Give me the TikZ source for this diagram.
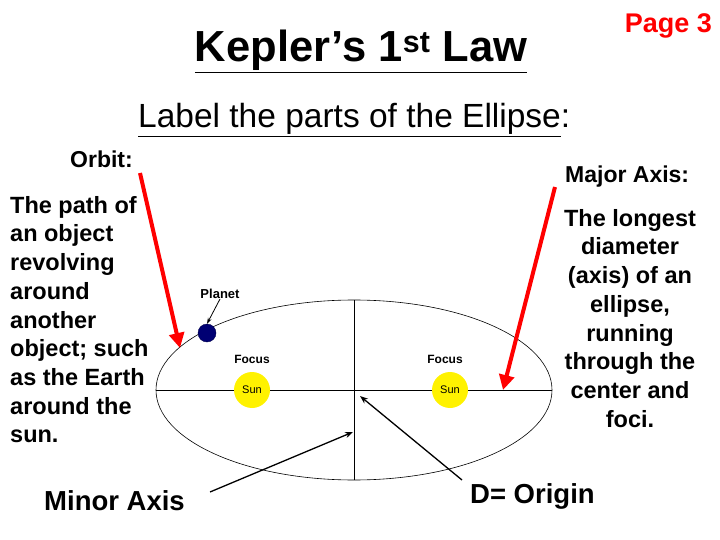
\documentclass[tikz,border=0pt]{standalone}
\usepackage{fontspec}
\setmainfont{Liberation Sans}
\usetikzlibrary{arrows.meta}
\tikzset{
  body/.style={font=\bfseries\fontsize{23.5}{28.7}\selectfont, inner sep=0pt},
  small/.style={font=\bfseries\fontsize{12}{13}\selectfont, inner sep=0pt},
  sun/.style={circle, fill=yellow, minimum size=36pt, inner sep=0pt, font=\fontsize{11}{12}\selectfont},
  redarrow/.style={draw=red, line width=4pt, -{Triangle[length=15pt,width=15pt]}},
  blackarrow/.style={draw=black, line width=1.3pt, -{Stealth[length=8pt,width=6pt]}}
}
\begin{document}
\begin{tikzpicture}[x=1pt,y=-1pt]
    \useasboundingbox (0,0) rectangle (720,540);
    % headings
    \node[anchor=base, font=\bfseries\fontsize{43.5}{46}\selectfont, inner sep=0pt] (title) at (361,62) {\underline{Kepler’s 1\textsuperscript{st} Law}};
    \node[anchor=base east, font=\bfseries\fontsize{27}{30}\selectfont, text=red, inner sep=0pt] (page) at (712,33) {Page 3};
    \node[anchor=base west, font=\fontsize{33.5}{36}\selectfont, inner sep=0pt] (label) at (138,128) {\underline{Label the parts of the Ellipse}:};
    % side texts
    \node[anchor=base west, font=\bfseries\fontsize{23}{26}\selectfont, inner sep=0pt] (orbit) at (70,168) {Orbit:};
    \node[body, anchor=north west, align=left] (orbittext) at (10,196) {The path of\\an object\\revolving\\around\\another\\object; such\\as the Earth\\around the\\sun.};
    \node[anchor=base west, font=\bfseries\fontsize{23}{26}\selectfont, inner sep=0pt] (major) at (565,183) {Major Axis:};
    \node[body, anchor=north, align=center] (majortext) at (630,209) {The longest\\diameter\\(axis) of an\\ellipse,\\running\\through the\\center and\\foci.};
    \node[anchor=base west, font=\bfseries\fontsize{27.5}{30}\selectfont, inner sep=0pt] (minor) at (44,510) {Minor Axis};
    \node[anchor=base west, font=\bfseries\fontsize{27.5}{30}\selectfont, inner sep=0pt] (origin) at (470,503) {D= Origin};
    % ellipse and axes
    \coordinate (c) at (354,390);
    \draw[line width=0.6pt] (c) ellipse (198 and 90);
    \draw[line width=0.8pt] (156,390) -- (552,390);
    \draw[line width=0.8pt] (354,300) -- (354,480);
    \node[sun] (sunl) at (252,390) {Sun};
    \node[sun] (sunr) at (450,390) {Sun};
    \node[small] (focl) at (252,359) {Focus};
    \node[small] (focr) at (445,359) {Focus};
    \node[circle, fill=blue!45!black, draw=blue!30!black, minimum size=18pt, inner sep=0pt] (planet) at (207,333) {};
    \node[small, font=\bfseries\fontsize{13}{14}\selectfont] (planetlbl) at (220,294) {Planet};
    \draw[-{Stealth[length=6pt,width=4pt]}, line width=0.8pt] (planetlbl.south) -- (planet.north);
    % arrows
    \coordinate (orbittip) at (180,348);
    \coordinate (majortip) at (503,390);
    \coordinate (minortip) at (353,432);
    \coordinate (origintip) at (360,396);
    \draw[redarrow] (140,173) -- (orbittip);
    \draw[redarrow] (555,187) -- (majortip);
    \draw[blackarrow] (210,492) -- (minortip);
    \draw[blackarrow] (462,480) -- (origintip);
\end{tikzpicture}
\end{document}
